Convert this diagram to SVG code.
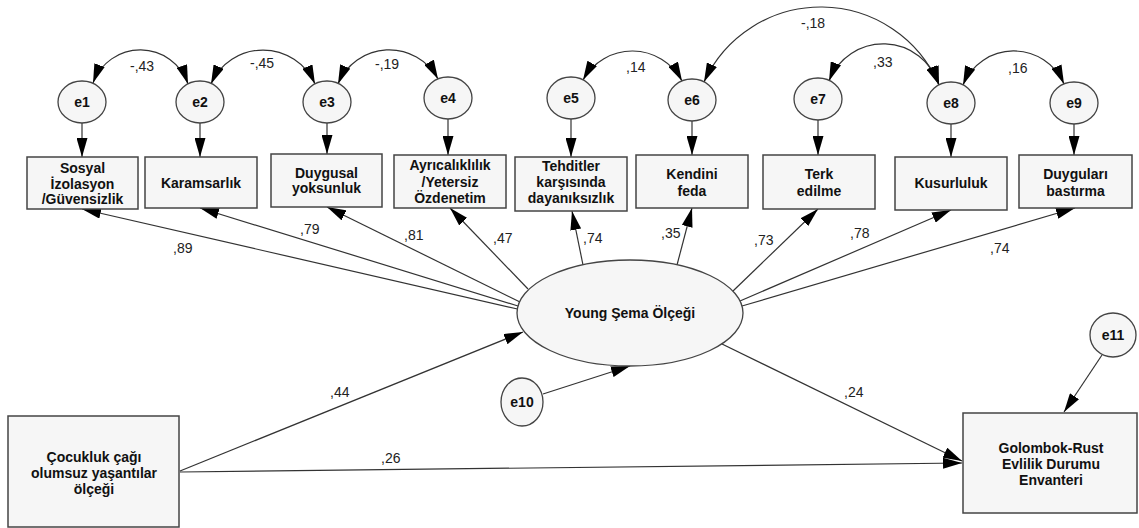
<svg xmlns="http://www.w3.org/2000/svg" width="1139" height="528" viewBox="0 0 1139 528">
<style>
.box{fill:#f6f6f6;stroke:#444;stroke-width:1.5}
.ell{fill:#f6f6f6;stroke:#444;stroke-width:1.3}
.t{font-family:"Liberation Sans",Arial,sans-serif;font-weight:bold;font-size:14px;text-anchor:middle;fill:#111}
.n{font-family:"Liberation Sans",Arial,sans-serif;font-size:14px;fill:#222}
.c{fill:none;stroke:#333;stroke-width:1.2;marker-end:url(#ah)}
.cc{fill:none;stroke:#333;stroke-width:1.2;marker-start:url(#ah);marker-end:url(#ah)}
</style>
<defs>
<marker id="ah" viewBox="0 0 19 11" refX="19" refY="5.5" markerWidth="19" markerHeight="11" orient="auto-start-reverse" markerUnits="userSpaceOnUse">
<path d="M0,0 L19,5.5 L0,11 z" fill="#000"/>
</marker>
</defs>
<rect width="1139" height="528" fill="#fff"/>

<g id="connectors">
<!-- covariances -->
<path class="cc" d="M93,83 A50.4,50.4 0 0 1 188,84"/>
<path class="cc" d="M211,84 A56.8,56.8 0 0 1 315,84"/>
<path class="cc" d="M338,84 A55.4,55.4 0 0 1 438,79"/>
<path class="cc" d="M583,80 A56.3,56.3 0 0 1 682,81"/>
<path class="cc" d="M704,82 A128.5,128.5 0 0 1 939,85"/>
<path class="cc" d="M829,81 A58.3,58.3 0 0 1 939,85"/>
<path class="cc" d="M963,85 A54.8,54.8 0 0 1 1064,84"/>
<!-- errors to indicators -->
<path class="c" d="M82,123 L82,157"/>
<path class="c" d="M200,123 L200,157"/>
<path class="c" d="M327,123 L327,154"/>
<path class="c" d="M448,119 L448,155"/>
<path class="c" d="M571,119 L571,157"/>
<path class="c" d="M692,121 L692,155"/>
<path class="c" d="M818,120 L818,155"/>
<path class="c" d="M951,124 L951,157"/>
<path class="c" d="M1074,124 L1074,155"/>
<!-- loadings -->
<path class="c" d="M517.5,309 L82,209"/>
<path class="c" d="M518,306 L200,208"/>
<path class="c" d="M520,302 L327,207"/>
<path class="c" d="M528,289 L450,208"/>
<path class="c" d="M583,265 L572,211"/>
<path class="c" d="M677,265 L692,208"/>
<path class="c" d="M733,291 L818,209"/>
<path class="c" d="M740,301 L951,210"/>
<path class="c" d="M742,306 L1075,208"/>
<!-- structural -->
<path class="c" d="M180,471 L523,332"/>
<path class="c" d="M543,394 L630,366"/>
<path class="c" d="M722,344 L962,461"/>
<path class="c" d="M180,472 L962,463"/>
<path class="c" d="M1102,355 L1064,412"/>
</g>

<g id="labels">
<text class="n" x="130" y="71">-,43</text>
<text class="n" x="250" y="68">-,45</text>
<text class="n" x="375" y="69">-,19</text>
<text class="n" x="626" y="72">,14</text>
<text class="n" x="801" y="28">-,18</text>
<text class="n" x="873" y="67">,33</text>
<text class="n" x="1008" y="73">,16</text>
<text class="n" x="173" y="253">,89</text>
<text class="n" x="300" y="234">,79</text>
<text class="n" x="404" y="240">,81</text>
<text class="n" x="493" y="243">,47</text>
<text class="n" x="583" y="243">,74</text>
<text class="n" x="661" y="238">,35</text>
<text class="n" x="754" y="245">,73</text>
<text class="n" x="850" y="238">,78</text>
<text class="n" x="990" y="253">,74</text>
<text class="n" x="330" y="397">,44</text>
<text class="n" x="381" y="463">,26</text>
<text class="n" x="844" y="397">,24</text>
</g>

<g id="e1"><ellipse class="ell" cx="82" cy="102" rx="24" ry="21"/><text class="t" x="82" y="107">e1</text></g>
<g id="e2"><ellipse class="ell" cx="200" cy="102" rx="24" ry="21"/><text class="t" x="200" y="107">e2</text></g>
<g id="e3"><ellipse class="ell" cx="327" cy="102" rx="24" ry="21"/><text class="t" x="327" y="107">e3</text></g>
<g id="e4"><ellipse class="ell" cx="448" cy="98" rx="24" ry="21"/><text class="t" x="448" y="103">e4</text></g>
<g id="e5"><ellipse class="ell" cx="571" cy="98" rx="24" ry="21"/><text class="t" x="571" y="103">e5</text></g>
<g id="e6"><ellipse class="ell" cx="692" cy="100" rx="24" ry="21"/><text class="t" x="692" y="105">e6</text></g>
<g id="e7"><ellipse class="ell" cx="818" cy="99" rx="24" ry="21"/><text class="t" x="818" y="104">e7</text></g>
<g id="e8"><ellipse class="ell" cx="951" cy="103" rx="24" ry="21"/><text class="t" x="951" y="108">e8</text></g>
<g id="e9"><ellipse class="ell" cx="1074" cy="103" rx="24" ry="21"/><text class="t" x="1074" y="108">e9</text></g>
<g id="e10"><ellipse class="ell" cx="522" cy="402" rx="21" ry="24"/><text class="t" x="522" y="407">e10</text></g>
<g id="e11"><ellipse class="ell" cx="1113" cy="335" rx="23" ry="22"/><text class="t" x="1113" y="340">e11</text></g>

<g id="sosyal"><rect class="box" x="27" y="157" width="111" height="52"/>
<text class="t" x="82.5" y="173">Sosyal</text><text class="t" x="82.5" y="189">İzolasyon</text><text class="t" x="82.5" y="204">/Güvensizlik</text></g>
<g id="karamsarlik"><rect class="box" x="145" y="157" width="112" height="51"/>
<text class="t" x="201" y="188">Karamsarlık</text></g>
<g id="duygusal"><rect class="box" x="271" y="154" width="111" height="53"/>
<text class="t" x="326.5" y="178">Duygusal</text><text class="t" x="326.5" y="193">yoksunluk</text></g>
<g id="ayricalik"><rect class="box" x="394" y="155" width="112" height="53"/>
<text class="t" x="450" y="170">Ayrıcalıklılık</text><text class="t" x="450" y="187">/Yetersiz</text><text class="t" x="450" y="203">Özdenetim</text></g>
<g id="tehditler"><rect class="box" x="515" y="157" width="112" height="54"/>
<text class="t" x="571" y="171">Tehditler</text><text class="t" x="571" y="187">karşısında</text><text class="t" x="571" y="203">dayanıksızlık</text></g>
<g id="kendini"><rect class="box" x="636" y="155" width="112" height="53"/>
<text class="t" x="692" y="179">Kendini</text><text class="t" x="692" y="196">feda</text></g>
<g id="terk"><rect class="box" x="763" y="155" width="112" height="54"/>
<text class="t" x="819" y="179">Terk</text><text class="t" x="819" y="196">edilme</text></g>
<g id="kusurluluk"><rect class="box" x="895" y="157" width="112" height="53"/>
<text class="t" x="951" y="188">Kusurluluk</text></g>
<g id="duygulari"><rect class="box" x="1019" y="155" width="113" height="53"/>
<text class="t" x="1075.5" y="179">Duyguları</text><text class="t" x="1075.5" y="196">bastırma</text></g>

<g id="young"><ellipse class="ell" cx="630" cy="313" rx="113" ry="53"/>
<text class="t" x="630" y="318">Young Şema Ölçeği</text></g>
<g id="cocukluk"><rect class="box" x="8" y="416" width="171" height="111"/>
<text class="t" x="94" y="462">Çocukluk çağı</text><text class="t" x="94" y="478">olumsuz yaşantılar</text><text class="t" x="94" y="494">ölçeği</text></g>
<g id="golombok"><rect class="box" x="963" y="413" width="174" height="100"/>
<text class="t" x="1051" y="453">Golombok-Rust</text><text class="t" x="1051" y="469">Evlilik Durumu</text><text class="t" x="1051" y="485">Envanteri</text></g>
</svg>
